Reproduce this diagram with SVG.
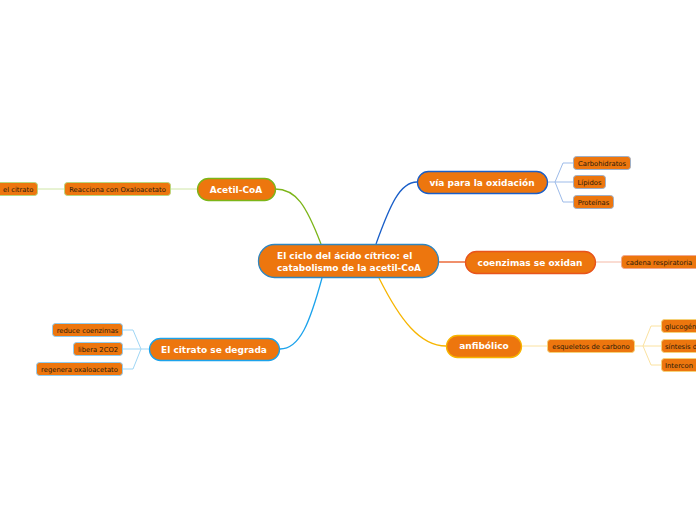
<svg xmlns="http://www.w3.org/2000/svg" width="696" height="520" viewBox="0 0 696 520">
<style>
.main{fill:#ED760E;stroke-width:1.3}
.sub{fill:#ED760E;stroke-width:1}
.tm{font-family:"DejaVu Sans",Verdana,sans-serif;font-weight:bold;fill:#fff;font-size:9px}
.ts{font-family:"DejaVu Sans",Verdana,sans-serif;fill:#2a1a0a;font-size:6.8px}
.c{fill:none}
</style>
<rect width="696" height="520" fill="#fff"/>
<g id="connectors">
<path class="c" d="M321 244 C306 205 296 189 275 189" stroke="#7CB518" stroke-width="1.3"/>
<path class="c" d="M322 278 C310 322 300 349 280 349" stroke="#1CA3EC" stroke-width="1.3"/>
<path class="c" d="M376 244 C390 205 400 182 417 182" stroke="#1A5FC9" stroke-width="1.3"/>
<path class="c" d="M439 262 L465 262" stroke="#E8541C" stroke-width="1.3"/>
<path class="c" d="M379 278 C400 320 420 346 446 346" stroke="#F7B500" stroke-width="1.3"/>
<path class="c" d="M171 189 L197 189" stroke="#cfe6a6" stroke-width="1"/>
<path class="c" d="M38 189 L64 189" stroke="#cfe6a6" stroke-width="1"/>
<path class="c" d="M149 349 L141 349 L133 330 L123 330 M141 349 L123 349 M141 349 L133 369 L123 369" stroke="#9fd6f5" stroke-width="1"/>
<path class="c" d="M547 182 L555 182 L563 163 L573 163 M555 182 L573 182 M555 182 L563 202 L573 202" stroke="#9dbbe9" stroke-width="1"/>
<path class="c" d="M595 262 L621 262" stroke="#f5b9a6" stroke-width="1"/>
<path class="c" d="M521 346 L547 346" stroke="#fbe2a0" stroke-width="1"/>
<path class="c" d="M635 346 L643 346 L651 326 L661 326 M643 346 L661 346 M643 346 L651 365 L661 365" stroke="#fbe2a0" stroke-width="1"/>
</g>
<g id="central">
<rect class="main" x="258.5" y="244.5" width="180" height="33" rx="16" stroke="#2E86C1"/>
<text class="tm" x="277" y="259">El ciclo del ácido cítrico: el</text>
<text class="tm" x="277" y="271">catabolismo de la acetil-CoA</text>
</g>
<g id="acetil">
<rect class="main" x="197.5" y="178.5" width="78" height="22" rx="11" stroke="#7CB518"/>
<text class="tm" x="236" y="193" text-anchor="middle">Acetil-CoA</text>
</g>
<g id="citrato">
<rect class="main" x="149.5" y="338.5" width="130" height="22" rx="11" stroke="#1CA3EC"/>
<text class="tm" x="214" y="353" text-anchor="middle">El citrato se degrada</text>
</g>
<g id="via">
<rect class="main" x="417.5" y="171.5" width="130" height="22" rx="11" stroke="#1A5FC9"/>
<text class="tm" x="482" y="186" text-anchor="middle">vía para la oxidación</text>
</g>
<g id="coenzimas">
<rect class="main" x="465.5" y="251.5" width="130" height="22" rx="11" stroke="#E8541C"/>
<text class="tm" x="530" y="266" text-anchor="middle">coenzimas se oxidan</text>
</g>
<g id="anfibolico">
<rect class="main" x="446.5" y="335.5" width="75" height="22" rx="11" stroke="#F7B500"/>
<text class="tm" x="484" y="349" text-anchor="middle">anfibólico</text>
</g>
<g id="elcitrato">
<rect class="sub" x="-4.5" y="182.5" width="42" height="13" rx="3" stroke="#b9d77f"/>
<text class="ts" x="3" y="191.5">el citrato</text>
</g>
<g id="reacciona">
<rect class="sub" x="64.5" y="182.5" width="106" height="13" rx="3" stroke="#b9d77f"/>
<text class="ts" x="117.5" y="191.5" text-anchor="middle">Reacciona con Oxaloacetato</text>
</g>
<g id="reduce">
<rect class="sub" x="52.5" y="323.5" width="70" height="13" rx="3" stroke="#8fcdf2"/>
<text class="ts" x="87.5" y="332.5" text-anchor="middle">reduce coenzimas</text>
</g>
<g id="libera">
<rect class="sub" x="73.5" y="342.5" width="49" height="13" rx="3" stroke="#8fcdf2"/>
<text class="ts" x="98" y="351.5" text-anchor="middle">libera 2CO2</text>
</g>
<g id="regenera">
<rect class="sub" x="36.5" y="362.5" width="86" height="13" rx="3" stroke="#8fcdf2"/>
<text class="ts" x="79.5" y="371.5" text-anchor="middle">regenera oxaloacetato</text>
</g>
<g id="carbohidratos">
<rect class="sub" x="573.5" y="156.5" width="57" height="13" rx="3" stroke="#9fb0c8"/>
<text class="ts" x="602" y="165.5" text-anchor="middle">Carbohidratos</text>
</g>
<g id="lipidos">
<rect class="sub" x="573.5" y="175.5" width="32" height="13" rx="3" stroke="#9fb0c8"/>
<text class="ts" x="589.5" y="184.5" text-anchor="middle">Lípidos</text>
</g>
<g id="proteinas">
<rect class="sub" x="573.5" y="195.5" width="40" height="13" rx="3" stroke="#9fb0c8"/>
<text class="ts" x="593.5" y="204.5" text-anchor="middle">Proteínas</text>
</g>
<g id="cadena">
<rect class="sub" x="621.5" y="255.5" width="78" height="13" rx="3" stroke="#f0a890"/>
<text class="ts" x="626" y="264.5">cadena respiratoria</text>
</g>
<g id="esqueletos">
<rect class="sub" x="547.5" y="339.5" width="87" height="13" rx="3" stroke="#f5d27a"/>
<text class="ts" x="591" y="348.5" text-anchor="middle">esqueletos de carbono</text>
</g>
<g id="glucogen">
<rect class="sub" x="661.5" y="319.5" width="50" height="13" rx="3" stroke="#f5d27a"/>
<text class="ts" x="665" y="328.5">glucogén</text>
</g>
<g id="sintesis">
<rect class="sub" x="661.5" y="339.5" width="50" height="13" rx="3" stroke="#f5d27a"/>
<text class="ts" x="665" y="348.5">síntesis d</text>
</g>
<g id="intercon">
<rect class="sub" x="661.5" y="358.5" width="50" height="13" rx="3" stroke="#f5d27a"/>
<text class="ts" x="665" y="367.5">Intercon</text>
</g>
</svg>
